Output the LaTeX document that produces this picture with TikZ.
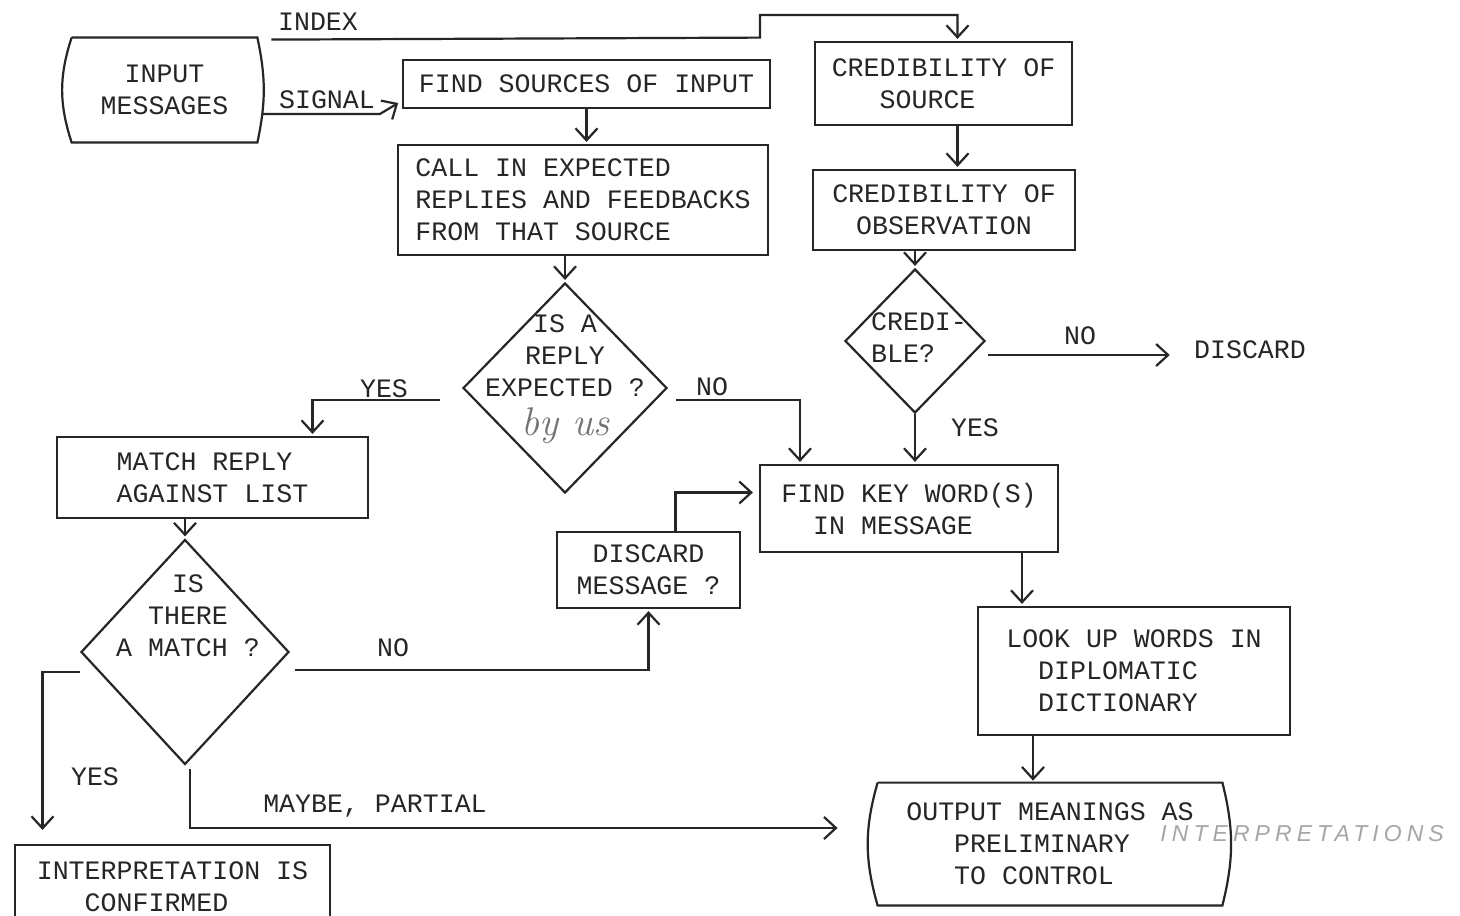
\documentclass[tikz,border=0pt]{standalone}
\usepackage{fontspec}
\setmonofont{Liberation Mono}
\newfontfamily\handfont[LetterSpace=22]{Liberation Sans}
\usetikzlibrary{arrows.meta,shapes.geometric,calc}

\begin{document}
\begin{tikzpicture}[x=0.5pt,y=-0.5pt,
  typed/.style={font=\ttfamily\fontsize{13.3}{16}\selectfont, text=black!85},
  box/.style={typed, draw=black!85, line width=1.1pt, inner sep=0pt, align=center},
  term/.style={typed, inner sep=0pt, align=center},
  query/.style={draw=black!85, diamond, line width=1.1pt, inner sep=0pt},
  txt/.style={typed, inner sep=0pt, align=center},
  lbl/.style={typed, inner sep=0pt},
  wire/.style={draw=black!85, line width=1.1pt},
  arr/.style={wire, shorten >=1pt, -{Straight Barb[length=6pt,width=11pt,line width=1.1pt]}},
  hand/.style={font=\rmfamily\itshape\fontsize{20}{22}\selectfont, text=black!55, inner sep=0pt}
]
\fill[white] (0,0) rectangle (1460,915);
\clip (0,0) rectangle (1460,915);

% ---- boxes ----
\node[term, minimum width=92.5pt, minimum height=52pt] (inp) at (164.5,90) {INPUT\\MESSAGES};
\draw[wire] (inp.north west) -- (inp.north east) to[bend left=12] (inp.south east)
  -- (inp.south west) to[bend left=18] (inp.north west);

\node[box, minimum width=183.5pt, minimum height=24pt] (find) at (586.5,84) {FIND SOURCES OF INPUT};
\node[box, minimum width=185pt, minimum height=55pt, align=left] (call) at (583,200)
  {CALL IN EXPECTED\\REPLIES AND FEEDBACKS\\FROM THAT SOURCE};

\node[box, minimum width=128.5pt, minimum height=41.5pt, align=left] (csrc) at (943.5,83.5)
  {CREDIBILITY OF\\\hphantom{XXX}SOURCE};
\node[box, minimum width=131pt, minimum height=40pt] (cobs) at (944,210)
  {CREDIBILITY OF\\OBSERVATION};

\node[query, minimum width=102pt, minimum height=105pt] (q1) at (565,388) {};
\node[txt] (q1t) at (565,356) {IS A\\REPLY\\EXPECTED ?};
\node[hand] (q1h) at (565,426) {by us};

\node[box, minimum width=155.5pt, minimum height=40.5pt, align=left] (match) at (212.5,477.5)
  {MATCH REPLY\\AGAINST LIST};

\node[query, minimum width=104pt, minimum height=112.5pt] (q2) at (185,652) {};
\node[txt] (q2t) at (188,616) {IS\\THERE\\A MATCH ?};

\node[box, minimum width=91.5pt, minimum height=38pt] (disc) at (648.5,570) {DISCARD\\MESSAGE ?};

\node[box, minimum width=149pt, minimum height=43.5pt, align=left] (fkw) at (909,508.5)
  {FIND KEY WORD(S)\\\hphantom{XX}IN MESSAGE};

\node[query, minimum width=70pt, minimum height=72pt] (q3) at (915,341) {};
\node[txt, align=left] (q3t) at (919,338) {CREDI-\\BLE?};
\node[lbl] (dis2) at (1250,350) {DISCARD};

\node[box, minimum width=156pt, minimum height=64pt, align=left] (look) at (1134,671)
  {LOOK UP WORDS IN\\\hphantom{XX}DIPLOMATIC\\\hphantom{XX}DICTIONARY};

\node[term, minimum width=172pt, minimum height=61pt, align=left] (out) at (1050,844)
  {OUTPUT MEANINGS AS\\\hphantom{XXX}PRELIMINARY\\\hphantom{XXX}TO CONTROL};
\draw[wire] (out.north west) -- (out.north east) to[bend left=14] (out.south east)
  -- (out.south west) to[bend left=16] (out.north west);
\node[anchor=west, inner sep=0pt, font=\handfont\itshape\fontsize{11.5}{13}\selectfont, text=black!35]
  (interp) at (1160,834) {INTERPRETATIONS};

\node[box, minimum width=157.5pt, minimum height=42pt, align=left] (conf) at (172.5,887)
  {INTERPRETATION IS\\\hphantom{XXX}CONFIRMED};

% ---- labels ----
\node[lbl] (lidx) at (318,22) {INDEX};
\node[lbl] (lsig) at (327,100) {SIGNAL};
\node[lbl] (ly1) at (384,389) {YES};
\node[lbl] (ln1) at (712,387) {NO};
\node[lbl] (ln2) at (393,648) {NO};
\node[lbl] (ly2) at (95,777) {YES};
\node[lbl] (lmp) at (375,806) {MAYBE, PARTIAL};
\node[lbl] (ln3) at (1080,336) {NO};
\node[lbl] (ly3) at (975,428) {YES};

% ---- connectors ----
\coordinate (jog) at (760,15);
\draw[arr] ($(inp.north east)+(14,2)$) -- (jog |- inp.north) -- (jog) -| ($(csrc.north)+(14,0)$);
\draw[arr] ($(inp.east)+(5,24)$) -- ($(find.west)+(-22,30)$) -- ($(find.west)+(-2,18)$);
\draw[arr] (find.south) -- (find.south |- call.north);
\draw[arr] (q1.north |- call.south) -- (q1.north);
\draw[arr] ($(q1.west)+(-22,12)$) -| ($(match.north)+(100,0)$);
\draw[arr] ($(q1.east)+(8,12)$) -| ($(fkw.north)+(-109,0)$);
\draw[arr] (q2.north |- match.south) -- (q2.north);
\draw[arr] ($(q2.east)+(5,18)$) -| (disc.south);
\draw[arr, shorten >=7pt] ($(q2.west)+(0,20)$) -| ($(conf.north)+(-130,0)$);
\draw[arr] ($(q2.south)+(5,3)$) |- ($(out.west)+(-38,-16)$);
\draw[arr] ($(disc.north)+(27,0)$) |- ($(fkw.west)+(-4,-16)$);
\draw[arr] ($(csrc.south)+(14,0)$) -- ($(cobs.north)+(13.5,0)$);
\draw[arr] (q3.north |- cobs.south) -- (q3.north);
\draw[arr] ($(q3.east)+(2,14)$) -- ($(dis2.west)+(-22,5)$);
\draw[arr] (q3.south) -- (q3.south |- fkw.north);
\draw[arr] ($(fkw.south)+(113,0)$) -- ($(look.north)+(-112,0)$);
\draw[arr] ($(look.south)+(-101,0)$) -- ($(out.north)+(-17,0)$);
\end{tikzpicture}
\end{document}
